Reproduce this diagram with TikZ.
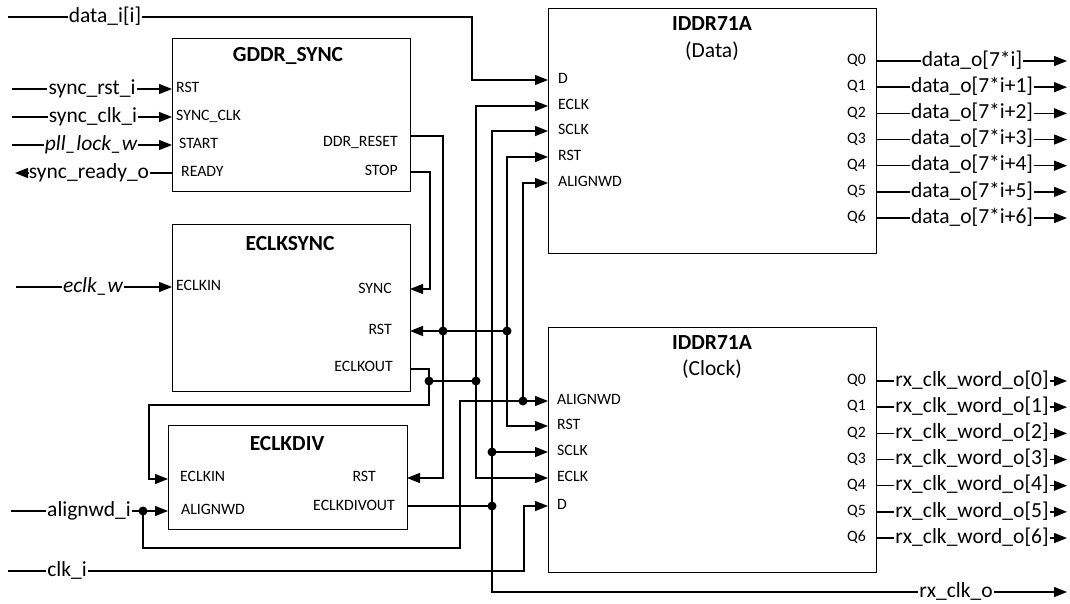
\documentclass[tikz,border=0pt]{standalone}
\usepackage{fontspec}
\setmainfont{Carlito}
\usetikzlibrary{arrows.meta}

\tikzset{
  wire/.style={line width=1.4pt},
  arr/.style={wire, -{Triangle[length=13pt,width=10pt]}},
  block/.style={draw, line width=1.4pt, anchor=north west, inner sep=0pt},
  sig/.style={font=\fontsize{21.5}{24}\selectfont, inner sep=1pt, text height=15pt, text depth=4.5pt},
  port/.style={font=\fontsize{15.8}{18}\selectfont, inner sep=0pt, text height=11pt, text depth=3.5pt},
  ttl/.style={font=\fontsize{21.5}{24}\selectfont\bfseries, inner sep=0pt},
  sub/.style={font=\fontsize{21.5}{24}\selectfont, inner sep=0pt},
  dot/.style={circle, fill, inner sep=0pt, minimum size=9pt},
}

\begin{document}
\begin{tikzpicture}[x=1pt,y=-1pt]
\useasboundingbox (0,0) rectangle (1070,603);

% ---------------- blocks ----------------
\node[block, minimum width=238pt, minimum height=153pt] (gddr) at (172,38) {};
\node[block, minimum width=238pt, minimum height=167pt] (eclksync) at (172,224) {};
\node[block, minimum width=239pt, minimum height=104pt] (eclkdiv) at (168,425) {};
\node[block, minimum width=328pt, minimum height=245pt] (iddrd) at (548,8) {};
\node[block, minimum width=328pt, minimum height=245pt] (iddrc) at (548,327) {};

\node[ttl] (t-gddr) at (288,56) {GDDR\_SYNC};
\node[ttl] (t-es) at (290,244) {ECLKSYNC};
\node[ttl] (t-ed) at (287,444) {ECLKDIV};
\node[ttl] (t-d) at (712,24) {IDDR71A};
\node[sub] (t-d2) at (712,51) {(Data)};
\node[ttl] (t-c) at (712,343) {IDDR71A};
\node[sub] (t-c2) at (712,369) {(Clock)};

% ---------------- port coordinates ----------------
\coordinate (g-rst) at (172,89);
\coordinate (g-sclk) at (172,117);
\coordinate (g-start) at (172,145);
\coordinate (g-ready) at (172,173);
\coordinate (g-ddr) at (410,136);
\coordinate (g-stop) at (410,172);

\coordinate (es-in) at (172,287);
\coordinate (es-sync) at (410,289);
\coordinate (es-rst) at (410,331);
\coordinate (es-out) at (410,369);

\coordinate (ed-in) at (168,479);
\coordinate (ed-align) at (168,511);
\coordinate (ed-rst) at (407,478);
\coordinate (ed-out) at (407,506);

\coordinate (d-d) at (548,80);
\coordinate (d-eclk) at (548,106);
\coordinate (d-sclk) at (548,131);
\coordinate (d-rst) at (548,157);
\coordinate (d-align) at (548,183);

\coordinate (c-align) at (548,401);
\coordinate (c-rst) at (548,426);
\coordinate (c-sclk) at (548,452);
\coordinate (c-eclk) at (548,478);
\coordinate (c-d) at (548,506);

% ---------------- port labels ----------------
\node[port, anchor=west] (pl-g1) at (176,89) {RST};
\node[port, anchor=west] (pl-g2) at (176,117) {SYNC\_CLK};
\node[port, anchor=west] (pl-g3) at (179,145) {START};
\node[port, anchor=west] (pl-g4) at (181,173) {READY};
\node[port, anchor=east] (pl-g5) at (398,143) {DDR\_RESET};
\node[port, anchor=east] (pl-g6) at (398,172) {STOP};

\node[port, anchor=west] (pl-e1) at (176,287) {ECLKIN};
\node[port, anchor=east] (pl-e2) at (392,290) {SYNC};
\node[port, anchor=east] (pl-e3) at (392,331) {RST};
\node[port, anchor=east] (pl-e4) at (393,368) {ECLKOUT};

\node[port, anchor=west] (pl-v1) at (180,478) {ECLKIN};
\node[port, anchor=west] (pl-v2) at (181,511) {ALIGNWD};
\node[port, anchor=east] (pl-v3) at (376,478) {RST};
\node[port, anchor=east] (pl-v4) at (395,507) {ECLKDIVOUT};

\node[port, anchor=west] (pl-d1) at (558,80) {D};
\node[port, anchor=west] (pl-d2) at (558,106) {ECLK};
\node[port, anchor=west] (pl-d3) at (558,131) {SCLK};
\node[port, anchor=west] (pl-d4) at (558,157) {RST};
\node[port, anchor=west] (pl-d5) at (558,183) {ALIGNWD};

\node[port, anchor=west] (pl-c1) at (557,401) {ALIGNWD};
\node[port, anchor=west] (pl-c2) at (557,426) {RST};
\node[port, anchor=west] (pl-c3) at (557,452) {SCLK};
\node[port, anchor=west] (pl-c4) at (557,478) {ECLK};
\node[port, anchor=west] (pl-c5) at (557,506) {D};

% ---------------- inputs on the left ----------------
\coordinate (s-data) at (8,17);
\node[sig] (l-data) at (105,17) {data\_i[i]};
\draw[wire] (s-data) -- (l-data);
\draw[arr] (l-data) -- (472,17) |- (d-d);

\coordinate (s-rst) at (12,89);
\node[sig] (l-rst) at (92,89) {sync\_rst\_i};
\draw[wire] (s-rst) -- (l-rst);
\draw[arr] (l-rst) -- (g-rst);

\coordinate (s-sclk) at (12,117);
\node[sig] (l-sclk) at (93,117) {sync\_clk\_i};
\draw[wire] (s-sclk) -- (l-sclk);
\draw[arr] (l-sclk) -- (g-sclk);

\coordinate (s-lock) at (12,145);
\node[sig] (l-lock) at (91,145) {\itshape pll\_lock\_w};
\draw[wire] (s-lock) -- (l-lock);
\draw[arr] (l-lock) -- (g-start);

\coordinate (o-ready) at (15,173);
\node[sig] (l-ready) at (89,173) {sync\_ready\_o};
\draw[wire] (g-ready) -- (l-ready);
\draw[arr] (l-ready) -- (o-ready);

\coordinate (s-eclk) at (16,287);
\node[sig] (l-eclk) at (93,287) {\itshape eclk\_w};
\draw[wire] (s-eclk) -- (l-eclk);
\draw[arr] (l-eclk) -- (es-in);

\coordinate (s-align) at (11,511);
\node[sig] (l-align) at (89,511) {alignwd\_i};
\draw[wire] (s-align) -- (l-align);

\coordinate (s-clk) at (8,571);
\node[sig] (l-clk) at (67,571) {clk\_i};
\draw[wire] (s-clk) -- (l-clk);
\draw[arr] (l-clk) -- (524,571) |- (c-d);

% ---------------- junctions ----------------
\coordinate (j-rst1) at (443,331);
\coordinate (j-rst2) at (507,331);
\coordinate (j-eo1) at (429,381);
\coordinate (j-eo2) at (476,381);
\coordinate (j-sc1) at (492,506);
\coordinate (j-sc2) at (492,452);
\coordinate (j-al1) at (143,511);
\coordinate (j-al2) at (523,401);

% ---------------- internal wiring ----------------
% STOP -> SYNC
\draw[arr] (g-stop) -- (430,172) |- (es-sync);
% DDR_RESET -> ECLKDIV RST, and the reset bus
\draw[arr] (g-ddr) -- (443,136) |- (ed-rst);
\draw[arr] (j-rst1) -- (es-rst);
\draw[wire] (j-rst1) -- (j-rst2);
\draw[arr] (j-rst2) |- (d-rst);
\draw[arr] (j-rst2) |- (c-rst);
% ECLKOUT -> ECLKDIV ECLKIN and both ECLK inputs
\draw[arr] (es-out) -- (429,369) -- (429,405) -- (149,405) |- (ed-in);
\draw[wire] (j-eo1) -- (j-eo2);
\draw[arr] (j-eo2) |- (d-eclk);
\draw[arr] (j-eo2) |- (c-eclk);
% ECLKDIVOUT -> SCLK inputs and rx_clk_o
\draw[wire] (ed-out) -- (j-sc1);
\draw[arr] (j-sc1) |- (d-sclk);
\draw[arr] (j-sc2) -- (c-sclk);
\node[sig] (l-rxclk) at (956,592) {rx\_clk\_o};
\coordinate (o-rxclk) at (1067,592);
\draw[wire] (j-sc1) |- (l-rxclk);
\draw[arr] (l-rxclk) -- (o-rxclk);
% alignwd_i -> ECLKDIV and both ALIGNWD inputs
\draw[wire] (l-align) -- (j-al1);
\draw[arr] (j-al1) -- (ed-align);
\draw[wire] (j-al1) -- (143,548) -- (460,548) |- (j-al2);
\draw[arr] (j-al2) -- (c-align);
\draw[arr] (j-al2) |- (d-align);

% junction dots
\foreach \j in {j-rst1,j-rst2,j-eo1,j-eo2,j-sc1,j-sc2,j-al1,j-al2}
  \node[dot] (dot-\j) at (\j) {};

% ---------------- outputs on the right ----------------
\foreach \k in {0,...,6} {
  \pgfmathsetmacro\yd{61+26.17*\k}
  \pgfmathsetmacro\yc{381+26.17*\k}
  \coordinate (dq\k) at (876,\yd);
  \coordinate (cq\k) at (876,\yc);
  \coordinate (odq\k) at (1067,\yd);
  \coordinate (ocq\k) at (1067,\yc);
  \node[port, anchor=east] (pq-d\k) at (866,\yd) {Q\k};
  \node[port, anchor=east] (pq-c\k) at (866,\yc) {Q\k};
  \ifnum\k=0
    \node[sig] (ld\k) at (972,\yd) {data\_o[7*i]};
  \else
    \node[sig] (ld\k) at (972,\yd) {data\_o[7*i+\k]};
  \fi
  \node[sig] (lc\k) at (972,\yc) {rx\_clk\_word\_o[\k]};
  \draw[wire] (dq\k) -- (ld\k);
  \draw[arr] (ld\k) -- (odq\k);
  \draw[wire] (cq\k) -- (lc\k);
  \draw[arr] (lc\k) -- (ocq\k);
}
\end{tikzpicture}
\end{document}
